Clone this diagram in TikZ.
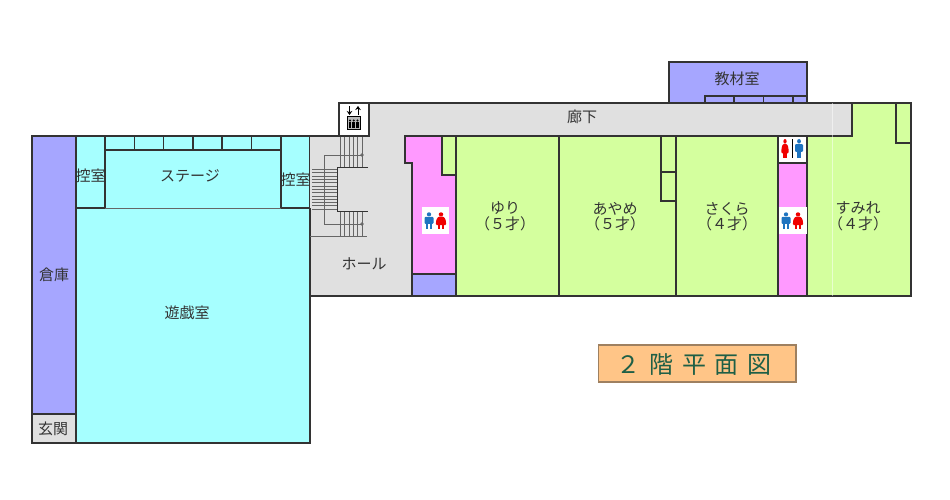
\documentclass[tikz,border=0pt]{standalone}
\usepackage{fontspec}
\usetikzlibrary{arrows.meta}
\setmainfont{Noto Sans CJK JP}
\definecolor{wallc}{HTML}{333333}
\definecolor{purplec}{HTML}{A6A6FF}
\definecolor{cyanc}{HTML}{A6FFFF}
\definecolor{greenc}{HTML}{D4FF9E}
\definecolor{pinkc}{HTML}{FF99FF}
\definecolor{grayc}{HTML}{E0E0E0}
\definecolor{orangec}{HTML}{FFC587}
\definecolor{titlec}{HTML}{1E5F46}
\definecolor{manc}{HTML}{1F74C0}
\definecolor{womanc}{HTML}{F00000}
\definecolor{stairc}{HTML}{666666}
\tikzset{
  room/.style={draw=wallc,line width=1.2pt,fill=#1},
  wall/.style={draw=wallc,line width=1.2pt},
  label/.style={inner sep=0pt,text=wallc,align=center,font=\fontsize{15}{15.5}\selectfont},
  stairline/.style={draw=stairc,line width=0.8pt},
  icon/.style={fill=white,draw=none}
}
\newcommand{\manfig}[4]{%
  \begin{scope}[shift={(#1,#2)},xscale=#3,yscale=#4]
    \fill[manc] (0,2.4) circle (2.4);
    \fill[manc,rounded corners=1pt] (-5,5.5) rectangle (5,13.5);
    \fill[manc] (-3,13) rectangle (-0.6,20);
    \fill[manc] (0.6,13) rectangle (3,20);
  \end{scope}}
\newcommand{\womanfig}[4]{%
  \begin{scope}[shift={(#1,#2)},xscale=#3,yscale=#4]
    \fill[womanc] (0,2.4) circle (2.4);
    \fill[womanc,rounded corners=1pt] (-3,5.2) -- (3,5.2) -- (5,9) -- (5.5,15) -- (-5.5,15) -- (-5,9) -- cycle;
    \fill[womanc] (-2.8,14) rectangle (-0.7,20);
    \fill[womanc] (0.7,14) rectangle (2.8,20);
  \end{scope}}
\begin{document}
\begin{tikzpicture}[x=1pt,y=-1pt]
\useasboundingbox (0,0) rectangle (950,500);
% left block
\draw[room=purplec] (32,136) rectangle (76,414);
\draw[room=grayc] (32,414) rectangle (76,443);
\draw[room=cyanc] (76,208) rectangle (310,443);
\draw[room=cyanc] (76,136) rectangle (105,208);
\draw[room=cyanc] (281,136) rectangle (310,208);
\fill[cyanc] (105,150) rectangle (281,208);
\draw[room=cyanc] (105,136) rectangle (281,150);
\draw[wall] (105,150) -- (105,208) (281,150) -- (281,208);
\draw[stairc,line width=0.8pt] (105,208) -- (281,208);
\foreach \x in {134.7,163.7,193,222,251.7} \draw[wall] (\x,136) -- (\x,150);
% hall and corridor
\fill[grayc] (310,136) -- (370,136) -- (370,103) -- (852,103) -- (852,136) -- (412,136) -- (412,296) -- (310,296) -- cycle;
% rooms on corridor
\draw[room=purplec] (669,103) -- (669,62) -- (807,62) -- (807,103);
\draw[room=purplec] (705,96) rectangle (807,103);
\foreach \x in {734,763.5,793} \draw[wall] (\x,96) -- (\x,103);
\draw[room=greenc] (456,136) rectangle (559,296);
\draw[room=greenc] (559,136) rectangle (676,296);
\draw[room=greenc] (661,136) rectangle (676,172);
\draw[room=greenc] (661,172) rectangle (676,201);
\draw[room=greenc] (676,136) rectangle (778,296);
\draw[room=pinkc] (405,136) -- (456,136) -- (456,274) -- (412,274) -- (412,163) -- (405,163) -- cycle;
\draw[room=greenc] (442,136) rectangle (456,175);
\draw[room=purplec] (412,274) rectangle (456,296);
\draw[room=pinkc] (778,136) rectangle (807,296);
\draw[room=white] (778,136) rectangle (807,163);
\draw[room=greenc] (852,103) -- (911,103) -- (911,296) -- (807,296) -- (807,136) -- (852,136) -- cycle;
\draw[room=greenc] (896,103) rectangle (911,143);
% corridor and hall outlines
\draw[wall] (369,103) -- (852,103) -- (852,136) -- (405,136);
\draw[wall] (310,136) -- (340,136);
\draw[wall] (310,296) -- (412,296);
\draw[wall] (310,208) -- (310,443);
\draw[white,opacity=0.5,line width=0.8pt] (832,103) -- (832,296);
% stairs
\foreach \y in {169.5,172.8,176.1,179.4,182.7,186,189.3,192.6,195.9,199.2,202.5,205.8,209}
  \draw[stairline] (312,\y) -- (337,\y);
\foreach \x in {340.7,344,349.7,353,357,362} {
  \draw[stairline] (\x,136) -- (\x,167);
  \draw[stairline] (\x,211) -- (\x,236);
}
\draw[stairline] (362,155) -- (324,155) -- (324,224) -- (362,224);
\draw[stairline] (362,155) circle (1.2);
\draw[stairline] (362,224) circle (1.2);
\draw[wallc,line width=0.9pt] (368,167) -- (337,167) -- (337,211) -- (368,211);
\draw[stairline] (310,236) -- (367,236);
% elevator
\draw[room=white] (339,103) rectangle (369,136);
\draw[draw=black,line width=1pt,fill=stairc!45] (347,117) rectangle (360.5,130);
\foreach \x in {350,353.7,357.4} {
  \fill[black] (\x,120.5) circle (1.1);
  \fill[black] (\x-1.4,122) rectangle (\x+1.4,128.5);
}
\draw[black,line width=1pt,-{Stealth[length=4pt,width=5.5pt]}] (349.5,106.5) -- (349.5,115);
\draw[black,line width=1pt,-{Stealth[length=4pt,width=5.5pt]}] (358,115) -- (358,106);
% toilet icons
\fill[icon] (422,207) rectangle (449,234);
\manfig{429}{212.3}{0.9}{0.85}
\womanfig{441}{212.3}{0.95}{0.85}
\fill[icon] (779,207) rectangle (806.5,234);
\manfig{786}{212.3}{0.9}{0.85}
\womanfig{798}{212.3}{0.95}{0.85}
\womanfig{785}{139}{0.68}{0.95}
\manfig{799}{139}{0.8}{0.95}
\draw[black,line width=0.9pt] (792,139) -- (792,158);
% title box
\draw[draw=black!35!orangec!80!gray,line width=1.4pt,fill=orangec] (598.5,345) rectangle (796,382);
% labels
\node[label] (lsouko) at (54,275) {倉庫};
\node[label] (lgenkan) at (53,429) {玄関};
\node[label] (lyugi) at (187,313) {遊戯室};
\node[label] (lhikaeL) at (90.5,176) {控室};
\node[label] (lhikaeR) at (295.5,180) {控室};
\node[label] (lstage) at (190,176) {ステージ};
\node[label] (lhall) at (364,264) {ホール};
\node[label] (lroka) at (582,117) {廊下};
\node[label] (lkyozai) at (737,79) {教材室};
\node[label] (lyuri) at (505,216.5) {ゆり\\（５才）};
\node[label] (layame) at (615,216.5) {あやめ\\（５才）};
\node[label] (lsakura) at (727,216.5) {さくら\\（４才）};
\node[label] (lsumire) at (858,216.5) {すみれ\\（４才）};
\node[inner sep=0pt,text=titlec,font=\fontsize{24}{26}\selectfont] (ltitle) at (694,364.5) {２\hspace{8.7pt}階\hspace{8.7pt}平\hspace{8.7pt}面\hspace{8.7pt}図};
\end{tikzpicture}
\end{document}
